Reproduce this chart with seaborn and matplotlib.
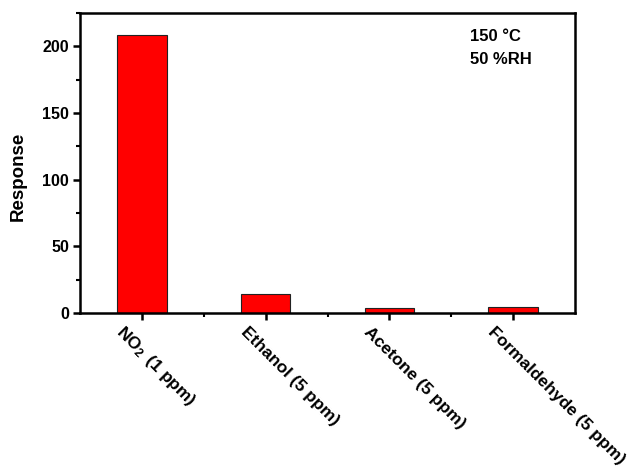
import matplotlib
matplotlib.use("Agg")
import matplotlib.pyplot as plt
import matplotlib.transforms as mtransforms
import seaborn as sns
import pandas as pd
from matplotlib.ticker import MultipleLocator, FixedLocator

gases = ["NO$_2\\,$ (1 ppm)", "Ethanol (5 ppm)", "Acetone (5 ppm)", "Formaldehyde (5 ppm)"]
response = [208.5, 14.5, 3.5, 4.3]

sns.set_theme(style="ticks")
plt.rcParams["font.family"] = ["Liberation Sans", "DejaVu Sans"]
plt.rcParams["font.weight"] = "bold"
plt.rcParams["text.color"] = "black"
plt.rcParams["axes.labelcolor"] = "black"
plt.rcParams["mathtext.fontset"] = "custom"
plt.rcParams["mathtext.rm"] = "Liberation Sans:bold"
plt.rcParams["mathtext.it"] = "Liberation Sans:bold"
plt.rcParams["mathtext.bf"] = "Liberation Sans:bold"

df = pd.DataFrame({"gas": gases, "response": response})

fig = plt.figure(figsize=(6.27, 4.70), dpi=100)
ax = fig.add_axes([0.1276, 0.334, 0.7895, 0.638])

sns.barplot(data=df, x="gas", y="response", ax=ax, color="#ff0000",
            saturation=1, width=0.4, edgecolor="#222222", linewidth=0.8)

ax.set_xlim(-0.5, 3.5)
ax.set_ylim(0, 225)
ax.yaxis.set_major_locator(MultipleLocator(50))
ax.yaxis.set_minor_locator(MultipleLocator(25))
ax.xaxis.set_minor_locator(FixedLocator([0.5, 1.5, 2.5]))

for s in ax.spines.values():
    s.set_linewidth(1.8)
    s.set_color("black")

ax.tick_params(axis="both", which="major", direction="out", length=5, width=1.8,
               colors="black")
ax.tick_params(axis="y", which="major", labelsize=11.5, pad=3)
ax.tick_params(axis="x", which="major", pad=2)
ax.tick_params(axis="both", which="minor", direction="out", length=3, width=1.5,
               colors="black")

ax.set_xticks(range(len(gases)))
ax.set_xticklabels(gases, rotation=-45, ha="left", va="baseline",
                   rotation_mode="anchor", fontsize=12.5, fontweight="bold")
shift = mtransforms.ScaledTranslation(-0.26, -0.10, fig.dpi_scale_trans)
for lab in ax.get_xticklabels():
    lab.set_transform(lab.get_transform() + shift)
for lab in ax.get_yticklabels():
    lab.set_fontweight("bold")

ax.set_xlabel("")
ax.set_ylabel("Response", fontsize=13.5, fontweight="bold")
ax.yaxis.set_label_coords(-0.107, 0.457)

ax.text(0.788, 0.923, "150 °C", transform=ax.transAxes, fontsize=12,
        fontweight="bold", va="center", ha="left")
ax.text(0.788, 0.847, "50 %RH", transform=ax.transAxes, fontsize=12,
        fontweight="bold", va="center", ha="left")

fig.savefig("out.png", dpi=100)
